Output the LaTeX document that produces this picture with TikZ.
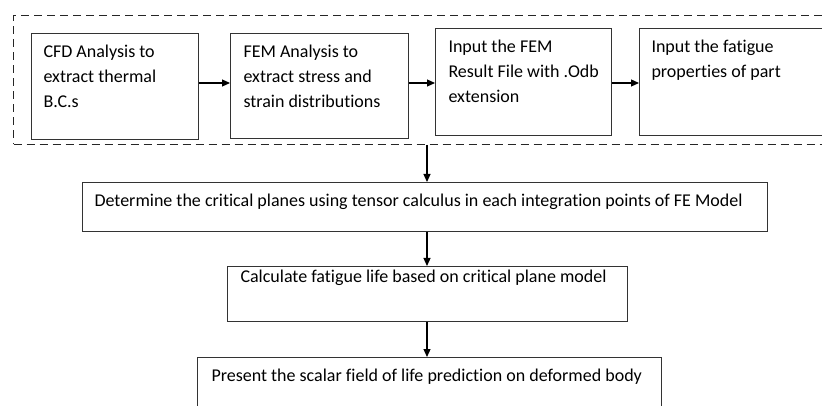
\documentclass[tikz,border=0pt]{standalone}
\usepackage{fontspec}
\setmainfont{Carlito}[Ligatures=NoCommon]
\usetikzlibrary{arrows.meta}
\newcommand{\bxt}[5]{\parbox[c][#2][t]{#1}{\fontsize{18pt}{25pt}\selectfont\leftskip=#4\rightskip=0pt plus 1fil\parindent=0pt\leavevmode\rule{0pt}{#3}#5\par}}
\begin{document}
\begin{tikzpicture}[x=1pt,y=-1pt,
  box/.style={draw=black!80, line width=1pt, anchor=north west, inner sep=0pt},
  grpbox/.style={draw=black!85, line width=1pt, dash pattern=on 8pt off 5pt, anchor=north west, inner sep=0pt},
  arr/.style={draw=black, line width=1.2pt, -{Triangle[length=8pt,width=7pt]}}]
\clip (0,0) rectangle (822,406);
\fill[white] (0,0) rectangle (822,406);
\node[grpbox, minimum width=840pt, minimum height=129pt] (grp) at (13,15) {};
\node[box] (b1) at (31,33) {\bxt{167pt}{106pt}{24pt}{12pt}{CFD Analysis to\newline extract thermal\newline B.C.s}};
\node[box] (b2) at (230,33) {\bxt{178pt}{105pt}{24pt}{13pt}{FEM Analysis to\newline extract stress and\newline strain distributions}};
\node[box] (b3) at (435,28) {\bxt{176pt}{107pt}{24pt}{13pt}{Input the FEM\newline Result File with .Odb\newline extension}};
\node[box] (b4) at (639,28) {\bxt{200pt}{107pt}{24pt}{12pt}{Input the fatigue\newline properties of part}};
\node[box] (b5) at (82,182) {\bxt{685pt}{49pt}{24pt}{12pt}{Determine the critical planes using tensor calculus in each integration points of FE Model}};
\node[box] (b6) at (227,266) {\bxt{400pt}{55pt}{15.7pt}{13pt}{Calculate fatigue life based on critical plane model}};
\node[box] (b7) at (197,357) {\bxt{464pt}{70pt}{24pt}{14pt}{Present the scalar field of life prediction on deformed body}};
\coordinate (ya) at (0,83);
\coordinate (xa) at (427,0);
\draw[arr] (b1.east |- ya) -- (b2.west |- ya);
\draw[arr] (b2.east |- ya) -- (b3.west |- ya);
\draw[arr] (b3.east |- ya) -- (b4.west |- ya);
\draw[arr] (grp.south -| xa) -- (b5.north -| xa);
\draw[arr] (b5.south -| xa) -- (b6.north -| xa);
\draw[arr] (b6.south -| xa) -- (b7.north -| xa);
\end{tikzpicture}
\end{document}
